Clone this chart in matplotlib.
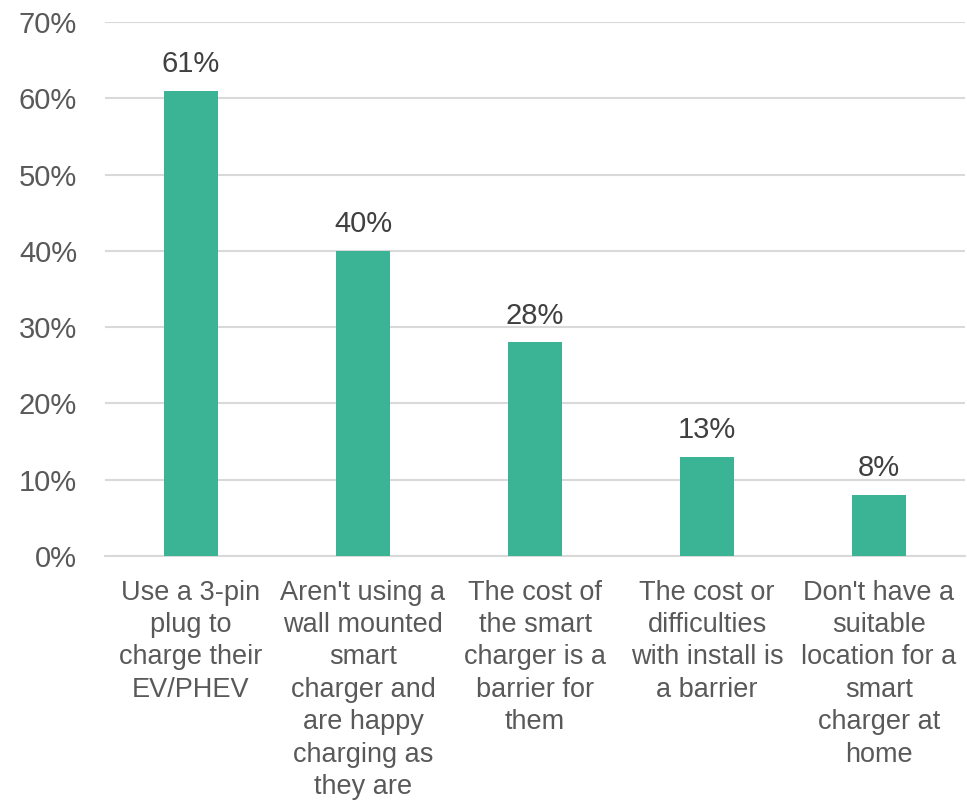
import matplotlib
matplotlib.use("Agg")
import matplotlib.pyplot as plt
from matplotlib.ticker import FuncFormatter

categories = [
    "Use a 3-pin\nplug to\ncharge their\nEV/PHEV",
    "Aren't using a\nwall mounted\nsmart\ncharger and\nare happy\ncharging as\nthey are",
    "The cost of\nthe smart\ncharger is a\nbarrier for\nthem",
    "The cost or\ndifficulties\nwith install is\na barrier",
    "Don't have a\nsuitable\nlocation for a\nsmart\ncharger at\nhome",
]
values = [61, 40, 28, 13, 8]
yticks = [0, 10, 20, 30, 40, 50, 60, 70]

plt.rcParams['font.family'] = ['Liberation Sans', 'DejaVu Sans']

fig = plt.figure(figsize=(9.67, 8.06), dpi=100)
ax = fig.add_axes([0.1086, 0.3102, 0.8894, 0.6625])

x = list(range(len(values)))
bars = ax.bar(x, values, width=0.31, color="#3bb395", zorder=3)

for xi, v in zip(x, values):
    ax.annotate(f"{v}%", (xi, v), xytext=(0, 9), textcoords="offset points",
                ha="center", va="bottom", fontsize=21, color="#404040")

ax.set_xlim(-0.5, len(values) - 0.5)
ax.set_ylim(0, 70)
ax.set_yticks(yticks)
ax.yaxis.set_major_formatter(FuncFormatter(lambda v, p: f"{int(v)}%"))
ax.grid(axis="y", color="#d9d9d9", linewidth=1.5, zorder=0)
ax.set_axisbelow(True)
for s in ["top", "right", "left"]:
    ax.spines[s].set_visible(False)
ax.spines["bottom"].set_color("#d9d9d9")
ax.spines["bottom"].set_linewidth(1.5)
ax.tick_params(axis="y", length=0, pad=20, labelsize=21, labelcolor="#595959")
ax.set_xticks(x)
ax.set_xticklabels(categories, fontsize=19.5, color="#595959", linespacing=1.32)
ax.tick_params(axis="x", length=0, pad=17)

fig.savefig("out.png", dpi=100)
